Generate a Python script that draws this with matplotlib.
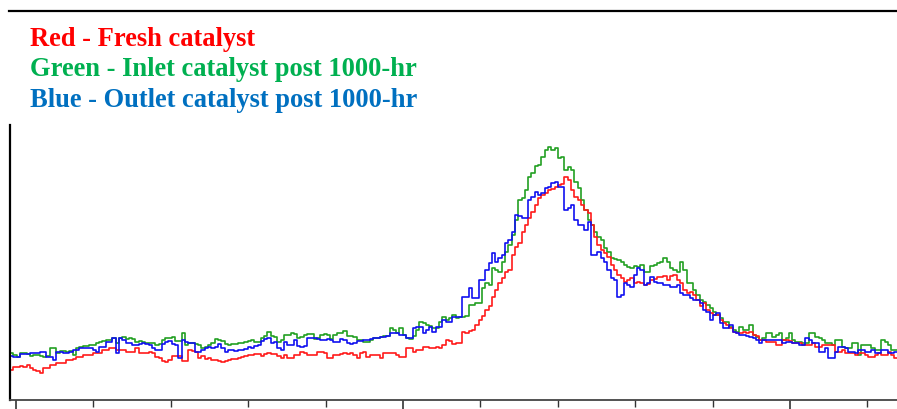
import numpy as np
import matplotlib as mpl
mpl.use('agg')
import matplotlib.pyplot as plt
from matplotlib.lines import Line2D

# intensity per channel, one row per 10 channels
red = [
    30, 33, 33, 34, 33, 35, 32, 30, 29, 27,
    32, 32, 35, 35, 37, 37, 37, 40, 40, 41,
    43, 43, 45, 45, 45, 47, 47, 47, 50, 50,
    52, 52, 50, 50, 50, 48, 48, 48, 52, 47,
    47, 47, 48, 47, 43, 42, 39, 38, 40, 44,
    44, 44, 39, 39, 50, 49, 48, 42, 44, 41,
    42, 40, 40, 39, 38, 39, 40, 41, 41, 42,
    43, 44, 45, 45, 46, 46, 44, 46, 47, 46,
    46, 44, 42, 45, 42, 42, 45, 45, 48, 47,
    45, 45, 45, 48, 48, 47, 42, 42, 45, 45,
    46, 47, 46, 47, 45, 42, 47, 48, 43, 45,
    45, 45, 42, 47, 47, 47, 47, 45, 43, 43,
    52, 52, 48, 50, 50, 53, 53, 52, 52, 53,
    52, 55, 60, 59, 56, 57, 57, 68, 67, 69,
    70, 75, 80, 84, 90, 94, 103, 110, 117, 122,
    128, 130, 145, 153, 157, 168, 175, 182, 188, 195,
    202, 205, 207, 210, 211, 213, 215, 216, 223, 220,
    210, 203, 200, 195, 190, 187, 175, 163, 155, 150,
    147, 143, 135, 130, 125, 122, 118, 120, 122, 117,
    118, 117, 115, 116, 120, 121, 123, 123, 124, 120,
    124, 125, 120, 117, 110, 107, 108, 105, 100, 94,
    97, 90, 87, 85, 85, 80, 77, 75, 72, 68,
    67, 67, 68, 67, 68, 65, 64, 60, 60, 58,
    58, 58, 55, 55, 60, 60, 59, 57, 57, 57,
    55, 55, 55, 57, 53, 53, 55, 55, 55, 55,
    48, 48, 50, 47, 47, 47, 45, 47, 47, 45,
    43, 43, 45, 47, 45, 45, 48, 45, 42,
]

green = [
    47, 45, 43, 47, 47, 46, 44, 45, 45, 44,
    43, 44, 52, 52, 47, 49, 49, 48, 49, 45,
    52, 53, 54, 54, 55, 55, 57, 58, 59, 60,
    60, 62, 57, 62, 63, 61, 62, 61, 58, 59,
    58, 57, 57, 57, 55, 56, 60, 62, 62, 63,
    59, 59, 67, 55, 57, 57, 56, 55, 52, 53,
    55, 57, 61, 60, 59, 56, 55, 56, 56, 57,
    57, 58, 59, 60, 58, 58, 62, 64, 68, 64,
    63, 58, 60, 65, 65, 67, 66, 62, 63, 65,
    66, 66, 61, 62, 65, 66, 65, 61, 65, 67,
    67, 69, 64, 64, 63, 60, 60, 58, 58, 60,
    62, 62, 63, 64, 64, 72, 70, 67, 72, 65,
    62, 61, 64, 70, 78, 77, 75, 74, 72, 72,
    78, 83, 80, 82, 85, 82, 83, 83, 84, 95,
    95, 97, 97, 112, 117, 115, 132, 130, 128, 138,
    148, 155, 165, 180, 200, 202, 210, 223, 227, 234,
    235, 243, 250, 253, 250, 252, 242, 243, 230, 233,
    230, 218, 212, 200, 190, 180, 175, 168, 163, 160,
    152, 148, 142, 141, 140, 138, 135, 133, 132, 134,
    133, 135, 128, 128, 134, 135, 137, 138, 142, 138,
    132, 130, 128, 138, 130, 117, 117, 110, 105, 100,
    98, 95, 92, 88, 85, 82, 78, 78, 73, 70,
    68, 73, 70, 70, 75, 65, 63, 60, 62, 67,
    67, 63, 65, 67, 60, 62, 67, 60, 58, 58,
    57, 57, 67, 67, 63, 62, 60, 57, 57, 55,
    60, 60, 53, 52, 52, 57, 57, 45, 55, 55,
    55, 52, 50, 50, 60, 58, 55, 50, 50,
]

blue = [
    44, 43, 43, 46, 46, 46, 47, 47, 47, 48,
    48, 43, 43, 40, 48, 48, 47, 47, 48, 50,
    50, 52, 52, 52, 52, 50, 48, 53, 53, 58,
    58, 62, 47, 62, 60, 57, 57, 55, 55, 56,
    57, 56, 55, 52, 50, 50, 56, 58, 59, 56,
    55, 42, 60, 58, 57, 57, 48, 48, 50, 52,
    53, 52, 53, 56, 52, 48, 50, 50, 49, 50,
    50, 51, 53, 52, 54, 55, 59, 61, 62, 57,
    58, 52, 50, 58, 55, 55, 60, 54, 53, 54,
    62, 62, 62, 61, 60, 60, 61, 60, 58, 58,
    61, 60, 57, 56, 57, 59, 59, 60, 60, 61,
    62, 62, 63, 63, 64, 67, 67, 67, 65, 65,
    62, 62, 72, 73, 73, 67, 70, 73, 68, 73,
    73, 80, 78, 78, 83, 83, 83, 103, 103, 112,
    102, 102, 120, 120, 130, 137, 147, 138, 142, 145,
    157, 160, 168, 185, 184, 182, 182, 200, 203, 208,
    205, 207, 212, 213, 217, 218, 213, 213, 190, 192,
    195, 180, 175, 175, 170, 178, 145, 145, 148, 142,
    138, 130, 122, 120, 103, 105, 117, 115, 113, 125,
    132, 130, 115, 117, 123, 118, 117, 117, 115, 115,
    113, 113, 115, 107, 105, 105, 102, 100, 100, 97,
    90, 88, 80, 85, 87, 77, 72, 72, 75, 68,
    67, 65, 65, 64, 63, 62, 60, 57, 60, 60,
    60, 60, 60, 60, 57, 58, 58, 57, 57, 55,
    55, 62, 60, 57, 57, 48, 48, 52, 42, 42,
    48, 53, 53, 52, 48, 48, 47, 50, 50, 48,
    48, 50, 47, 47, 50, 50, 47, 47, 48,
]

labels = ["Red - Fresh catalyst",
          "Green - Inlet catalyst post 1000-hr",
          "Blue - Outlet catalyst post 1000-hr"]
label_colors = ["#ff0000", "#00b050", "#0070c0"]

W, H = 897, 409
fig = plt.figure(figsize=(W / 100, H / 100), dpi=100)
ax = fig.add_axes([10 / W, 9 / H, 887 / W, 275 / H])

x = np.arange(len(red) + 1)

def stairs(vals, color):
    v = np.append(vals, vals[-1])
    ax.plot(x, v, drawstyle='steps-post', color=color, lw=1.2)

stairs(green, '#22a022')
stairs(red, '#ff1a1a')
stairs(blue, '#1010f0')

ax.set_xlim(0, 887 / 3.3)
ax.set_ylim(0, 275)

# ticks every ~23.45 channels, longer ones every fifth
tick_step = 77.4 / 3.3
ticks = 1.8 + tick_step * np.arange(12)
ax.set_xticks(ticks[::5])
ax.set_xticks([t for i, t in enumerate(ticks) if i % 5], minor=True)
ax.tick_params(axis='x', which='major', direction='out', length=7,
               width=1.2, color='#333333', labelbottom=False)
ax.tick_params(axis='x', which='minor', direction='out', length=5,
               width=1.0, color='#333333')
ax.set_yticks([])

for s in ['top', 'right']:
    ax.spines[s].set_visible(False)
ax.spines['left'].set_linewidth(1.6)
ax.spines['left'].set_color('black')
ax.spines['bottom'].set_linewidth(1.3)
ax.spines['bottom'].set_color('#444444')

# heavy rule across the top
fig.add_artist(Line2D([9 / W, 1.0], [1 - 11 / H, 1 - 11 / H],
                      color='black', lw=1.6))

for i, (txt, c) in enumerate(zip(labels, label_colors)):
    fig.text(30 / W, 1 - (46 + 30.5 * i) / H, txt, color=c,
             family='Liberation Serif', weight='bold', fontsize=19.1,
             va='baseline', ha='left')

fig.savefig('out.png', dpi=100)
